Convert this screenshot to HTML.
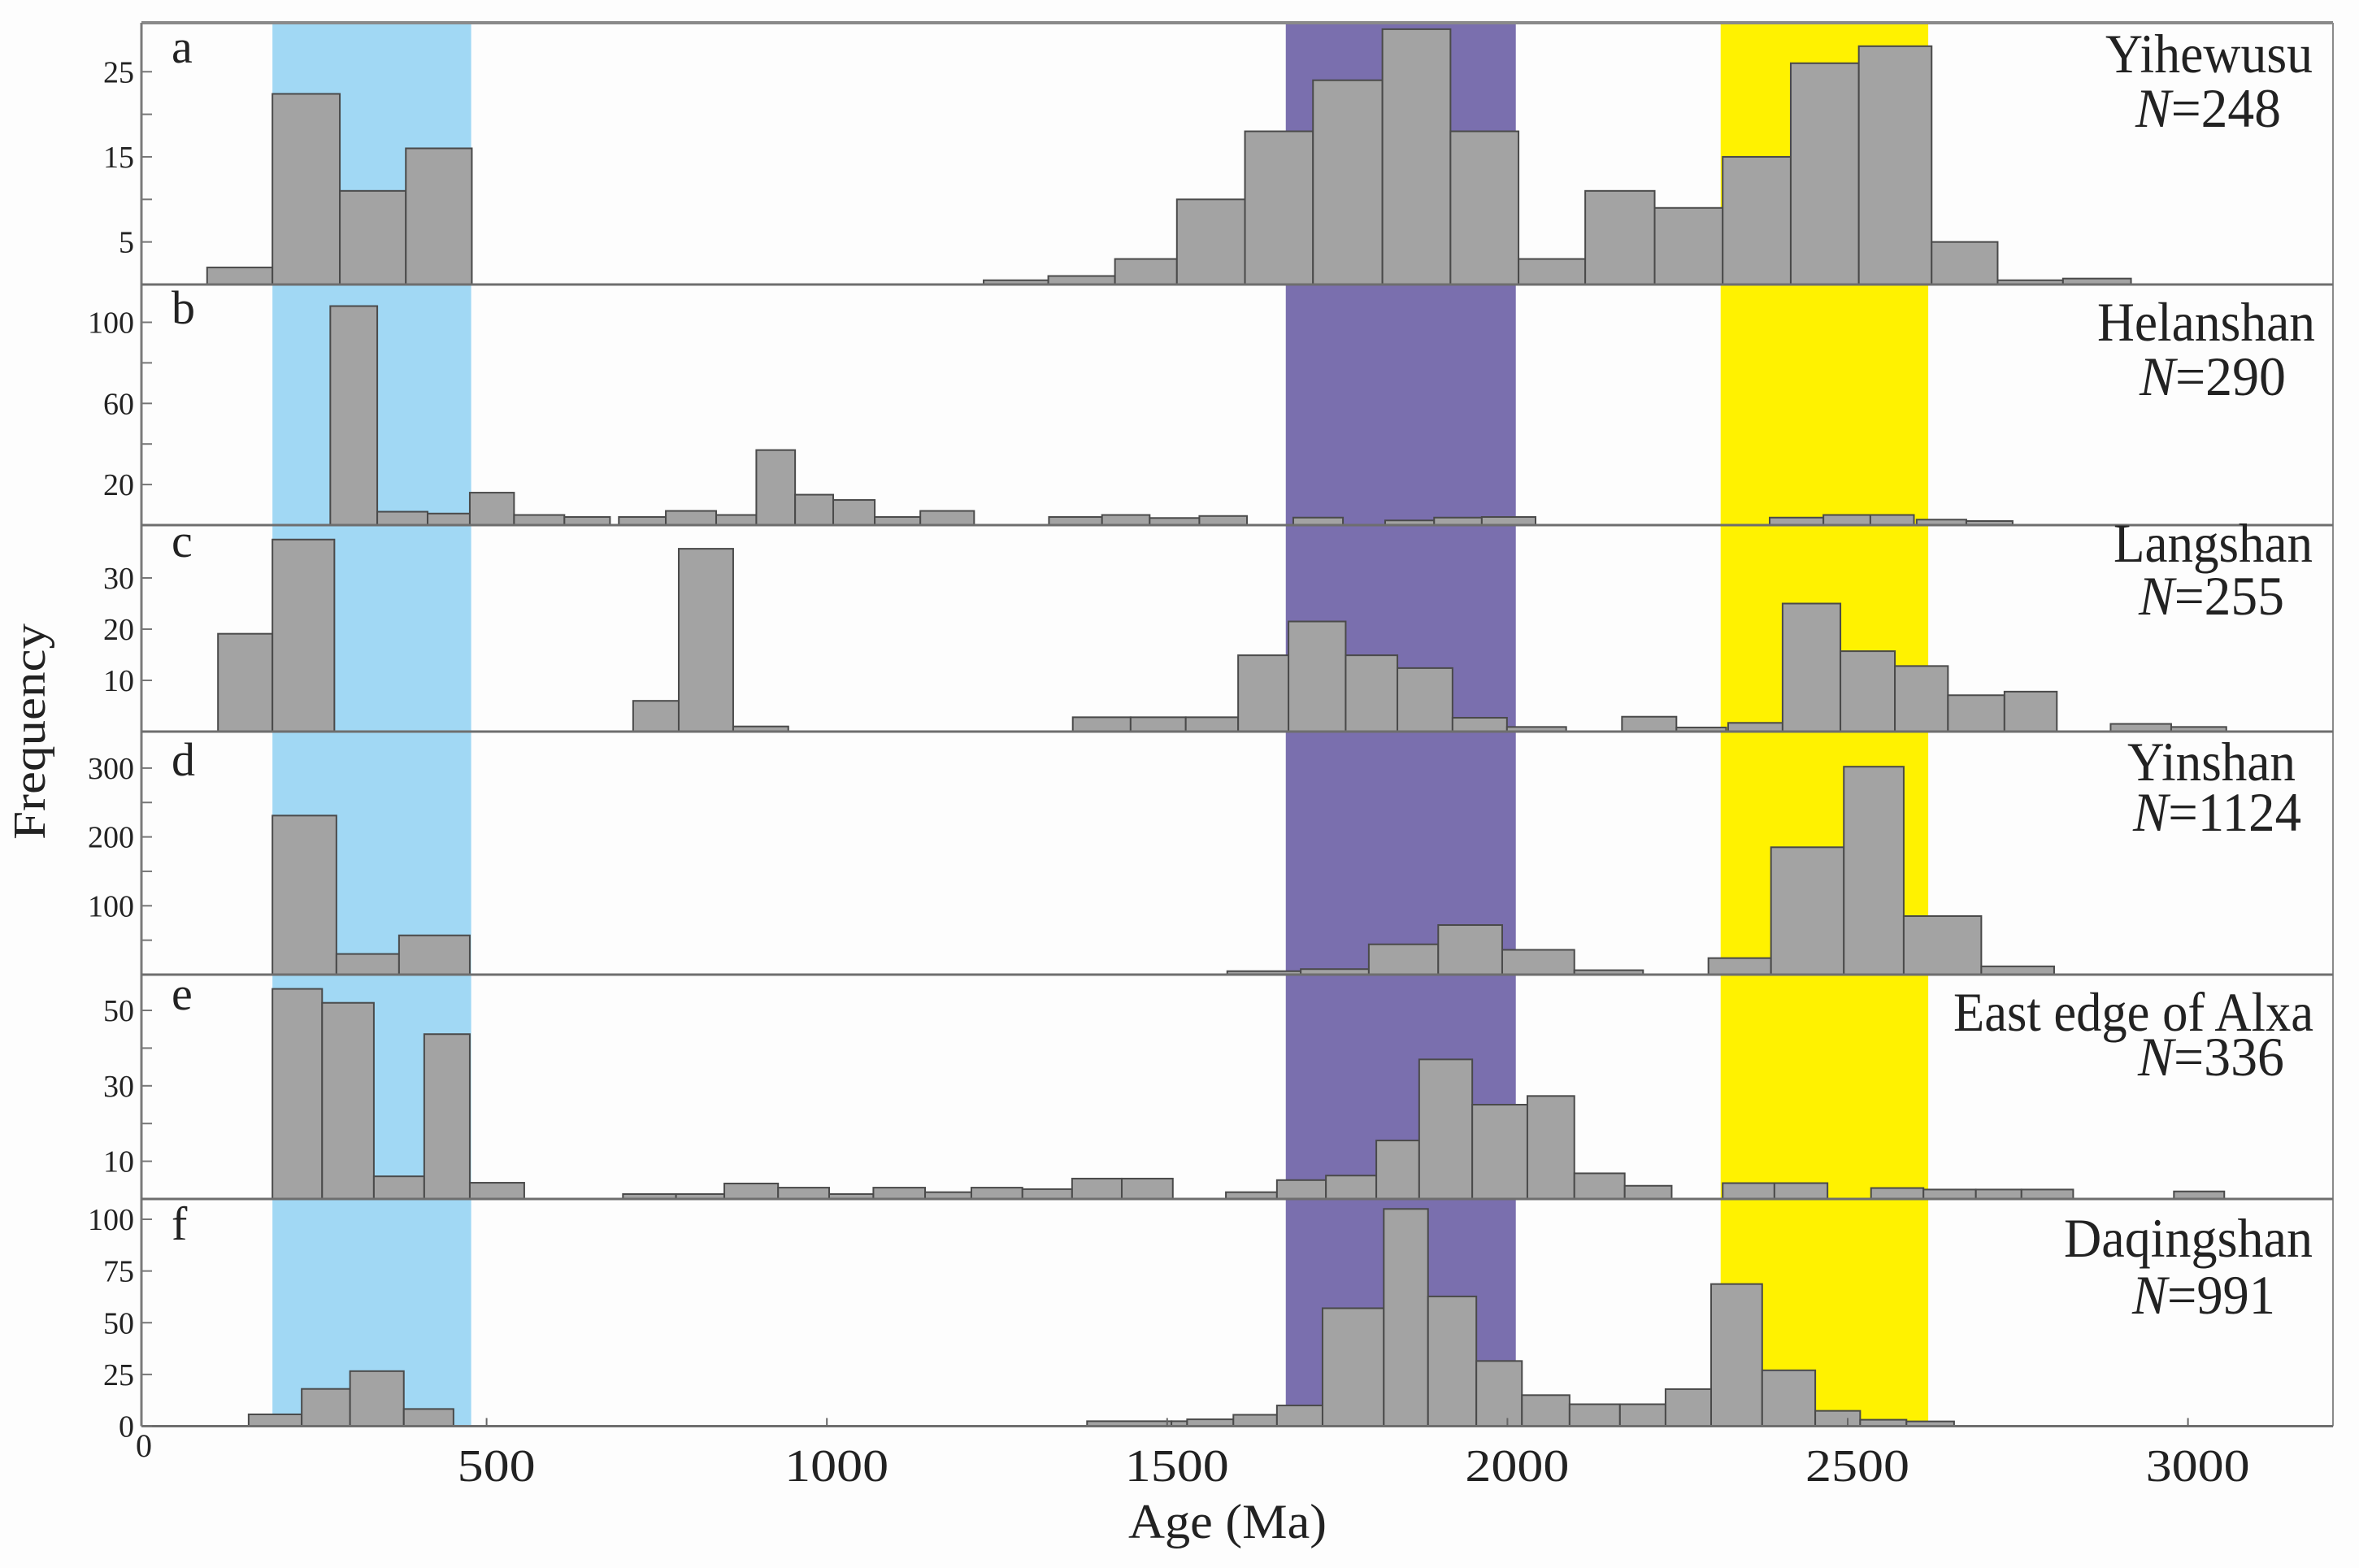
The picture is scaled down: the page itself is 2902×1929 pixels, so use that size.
<!DOCTYPE html>
<html>
<head>
<meta charset="utf-8">
<style>
html,body{margin:0;padding:0;background:#fdfdfd;}
svg{display:block;}
text{font-family:"Liberation Serif",serif;fill:#222;}
</style>
</head>
<body>
<svg id="chart" width="2902" height="1929" viewBox="0 0 2902 1929" xmlns="http://www.w3.org/2000/svg">
<rect x="0" y="0" width="2902" height="1929" fill="#fdfdfd"/>
<g id="bands"></g>
<g id="bars"></g>
<g id="axes"></g>
<g id="labels"></g>
</svg>
<script>
// ---- data (ages in Ma, counts) ----
const bandStarts = [171, 1660, 2299];
const bandEnds = [463, 1998, 2604];
const bandColors = ["#a1d8f4", "#7a6fae", "#fff200"];

const aStarts = [75,171,270,367,1216,1311,1409,1500,1600,1700,1802,1902,2002,2100,2202,2302,2402,2502,2609,2706,2802];
const aEnds   = [171,270,367,464,1311,1409,1500,1600,1700,1802,1902,2002,2100,2202,2302,2402,2502,2609,2706,2802,2902];
const aCounts = [2,22.4,11,16,0.5,1,3,10,18,24,30,18,3,11,9,15,26,28,5,0.5,0.7];

const bStarts = [256,325,399,461,526,600,680,749,823,882,939,995,1056,1123,1312,1390,1460,1533,1671,1806,1878,1948,2371,2450,2519,2587,2660];
const bEnds   = [325,399,461,526,600,667,749,823,882,939,995,1056,1123,1202,1390,1460,1533,1603,1744,1878,1948,2027,2450,2519,2583,2660,2728];
const bCounts = [108,6.6,5.7,16,5,4,4,7,5,37,15,12.4,4,7,4,5,3.5,4.5,3.7,2.3,3.7,4,3.7,5,5,2.7,2];

const cStarts = [91,171,701,768,848,1347,1432,1513,1590,1664,1748,1824,1905,1985,2154,2234,2310,2390,2475,2555,2633,2716,2872,2961];
const cEnds   = [171,262,768,848,929,1432,1513,1590,1664,1748,1824,1905,1985,2072,2234,2307,2390,2475,2555,2633,2716,2793,2961,3042];
const cCounts = [19.1,37.5,6,35.7,1,2.8,2.8,2.8,14.9,21.5,14.9,12.4,2.7,0.9,2.9,0.8,1.7,25,15.7,12.8,7.1,7.8,1.5,0.9];

const dStarts = [171,265,357,1574,1682,1782,1884,1978,2084,2281,2373,2480,2568,2682];
const dEnds   = [265,357,461,1682,1782,1884,1978,2084,2185,2373,2480,2568,2682,2789];
const dCounts = [231,30,57,5,8,44,72,36,6.4,24,185,302,85,12];

const eStarts = [171,244,320,394,461,686,764,835,914,989,1054,1130,1198,1273,1346,1419,1572,1647,1719,1793,1856,1934,2015,2084,2158,2302,2378,2520,2597,2674,2741,2965];
const eEnds   = [244,320,394,461,541,764,835,914,989,1054,1130,1198,1273,1346,1419,1494,1647,1719,1793,1856,1934,2015,2084,2158,2227,2378,2456,2597,2674,2741,2817,3039];
const eCounts = [55.7,52,6,43.7,4.3,1.3,1.3,4.1,3,1.3,3,1.8,3,2.6,5.4,5.4,1.8,5,6.2,15.5,37,25,27.3,6.8,3.5,4.2,4.2,2.9,2.5,2.5,2.5,2];

const fStarts = [136,214,285,364,1368,1492,1515,1583,1647,1714,1804,1869,1940,2007,2077,2151,2218,2285,2360,2438,2504,2572];
const fEnds   = [214,285,364,437,1492,1515,1583,1647,1714,1804,1869,1940,2007,2077,2151,2218,2285,2360,2438,2504,2572,2642];
const fCounts = [5.7,18,26.6,8.3,2.4,2.4,3.3,5.5,10,57,105,62.7,31.5,15,10.6,10.6,17.9,68.7,27,7.4,3.1,2.3];

const panelLetters = ["a","b","c","d","e","f"];
const panelNames = ["Yihewusu","Helanshan","Langshan","Yinshan","East edge of Alxa","Daqingshan"];
const panelN = ["248","290","255","1124","336","991"];
const aTicks = [5,10,15,20,25];   const aTickLabels = [5,15,25];
const bTicks = [20,40,60,80,100]; const bTickLabels = [20,60,100];
const cTicks = [10,20,30];        const cTickLabels = [10,20,30];
const dTicks = [50,100,150,200,250,300]; const dTickLabels = [100,200,300];
const eTicks = [10,20,30,40,50];  const eTickLabels = [10,30,50];
const fTicks = [0,25,50,75,100];  const fTickLabels = [0,25,50,75,100];
const xTickValues = [500,1000,1500,2000,2500,3000];

// ---- layout ----
const NS = "http://www.w3.org/2000/svg";
const L = 174, R = 2870, TOP = 28;
const X0 = 192, XK = 0.8372;
function xs(v){ return X0 + v*XK; }
const panels = [
  {base:350, k:10.47, top:28,   starts:aStarts, ends:aEnds, counts:aCounts, ticks:aTicks, tl:aTickLabels},
  {base:646, k:2.495, top:350,  starts:bStarts, ends:bEnds, counts:bCounts, ticks:bTicks, tl:bTickLabels},
  {base:900, k:6.3,   top:646,  starts:cStarts, ends:cEnds, counts:cCounts, ticks:cTicks, tl:cTickLabels},
  {base:1199,k:0.847, top:900,  starts:dStarts, ends:dEnds, counts:dCounts, ticks:dTicks, tl:dTickLabels},
  {base:1475,k:4.64,  top:1199, starts:eStarts, ends:eEnds, counts:eCounts, ticks:eTicks, tl:eTickLabels},
  {base:1754.5,k:2.545,top:1475,starts:fStarts, ends:fEnds, counts:fCounts, ticks:fTicks, tl:fTickLabels}
];
const nameLayout = [
  {nx:2845,ny:89,nw:255, cx:2806,cy:156,cw:179},
  {nx:2848,ny:419,nw:268, cx:2812,cy:486,cw:180},
  {nx:2845,ny:691,nw:245, cx:2810,cy:756,cw:179},
  {nx:2824,ny:960,nw:207, cx:2831,cy:1022,cw:207},
  {nx:2846,ny:1268,nw:443, cx:2810,cy:1323,cw:180},
  {nx:2845,ny:1546,nw:306, cx:2799,cy:1616,cw:176}
];
const letterY = [77,398,685,954,1242,1525];

function mk(tag, attrs, parent){
  const el = document.createElementNS(NS, tag);
  for (const k in attrs) el.setAttribute(k, attrs[k]);
  parent.appendChild(el);
  return el;
}
const gBands = document.getElementById('bands');
const gBars = document.getElementById('bars');
const gAxes = document.getElementById('axes');
const gLab = document.getElementById('labels');
const BOTTOM = panels[5].base;

// bands
for (let i=0;i<bandStarts.length;i++){
  const r = mk('rect',{x:xs(bandStarts[i]), y:TOP, width:xs(bandEnds[i])-xs(bandStarts[i]), height:BOTTOM-TOP, fill:bandColors[i]}, gBands);
  
  
}

// bars
panels.forEach((p, pi) => {
  for (let i=0;i<p.counts.length;i++){
    const x1 = xs(p.starts[i]), x2 = xs(p.ends[i]);
    const h = p.counts[i]*p.k;
    const r = mk('rect',{x:x1, y:p.base-h, width:x2-x1, height:h, fill:"#a3a3a3", stroke:"#4a4a4a", "stroke-width":2}, gBars);
    
    
  }
});

// axes: frame lines
mk('line',{x1:L,y1:TOP,x2:R,y2:TOP,stroke:"#8a8a8a","stroke-width":4},gAxes);
mk('line',{x1:L,y1:TOP,x2:L,y2:BOTTOM,stroke:"#7a7a7a","stroke-width":3},gAxes);
mk('line',{x1:R,y1:TOP,x2:R,y2:BOTTOM,stroke:"#8a8a8a","stroke-width":2},gAxes);
panels.forEach((p, pi) => {
  const ln = mk('line',{x1:L,y1:p.base,x2:R,y2:p.base,stroke:"#6e6e6e","stroke-width":3},gAxes);
  
  
  p.ticks.forEach(t => {
    const y = p.base - t*p.k;
    mk('line',{x1:L,y1:y,x2:L+13,y2:y,stroke:"#777","stroke-width":2},gAxes);
  });
  p.tl.forEach(t => {
    const y = p.base - t*p.k;
    const tx = mk('text',{x:165,y:y+13,"text-anchor":"end","font-size":38},gAxes);
    tx.textContent = t;
    
    
  });
});
// x ticks
xTickValues.forEach(v => {
  mk('line',{x1:xs(v)-12,y1:BOTTOM,x2:xs(v)-12,y2:BOTTOM-10,stroke:"#666","stroke-width":2},gAxes);
  const tx = mk('text',{x:xs(v),y:1822,"text-anchor":"middle","font-size":56,textLength:(String(v).length*32),lengthAdjust:"spacingAndGlyphs"},gAxes);
  tx.textContent = v;
  
  
});
const zero = mk('text',{x:177,y:1792,"text-anchor":"middle","font-size":40},gAxes);
zero.textContent = "0";



// axis titles
const xt = mk('text',{x:1510,y:1892,"text-anchor":"middle","font-size":60,textLength:244,lengthAdjust:"spacingAndGlyphs"},gLab);
xt.textContent = "Age (Ma)";


const yt = mk('text',{x:0,y:0,"text-anchor":"middle","font-size":56,textLength:266,lengthAdjust:"spacingAndGlyphs",transform:"translate(55,900) rotate(-90)"},gLab);
yt.textContent = "Frequency";



// panel letters and names
panels.forEach((p, pi) => {
  const lt = mk('text',{x:211,y:letterY[pi],"font-size":58},gLab);
  lt.textContent = panelLetters[pi];
  
  
  const nl = nameLayout[pi];
  const nm = mk('text',{x:nl.nx,y:nl.ny,"text-anchor":"end","font-size":68,textLength:nl.nw,lengthAdjust:"spacingAndGlyphs"},gLab);
  nm.textContent = panelNames[pi];
  
  
  const nn = mk('text',{x:nl.cx,y:nl.cy,"text-anchor":"end","font-size":68,textLength:nl.cw,lengthAdjust:"spacingAndGlyphs"},gLab);
  const ts = mk('tspan',{"font-style":"italic"},nn);
  ts.textContent = "N";
  const ts2 = mk('tspan',{},nn);
  ts2.textContent = "=" + panelN[pi];
  
  
});
</script>
</body>
</html>
